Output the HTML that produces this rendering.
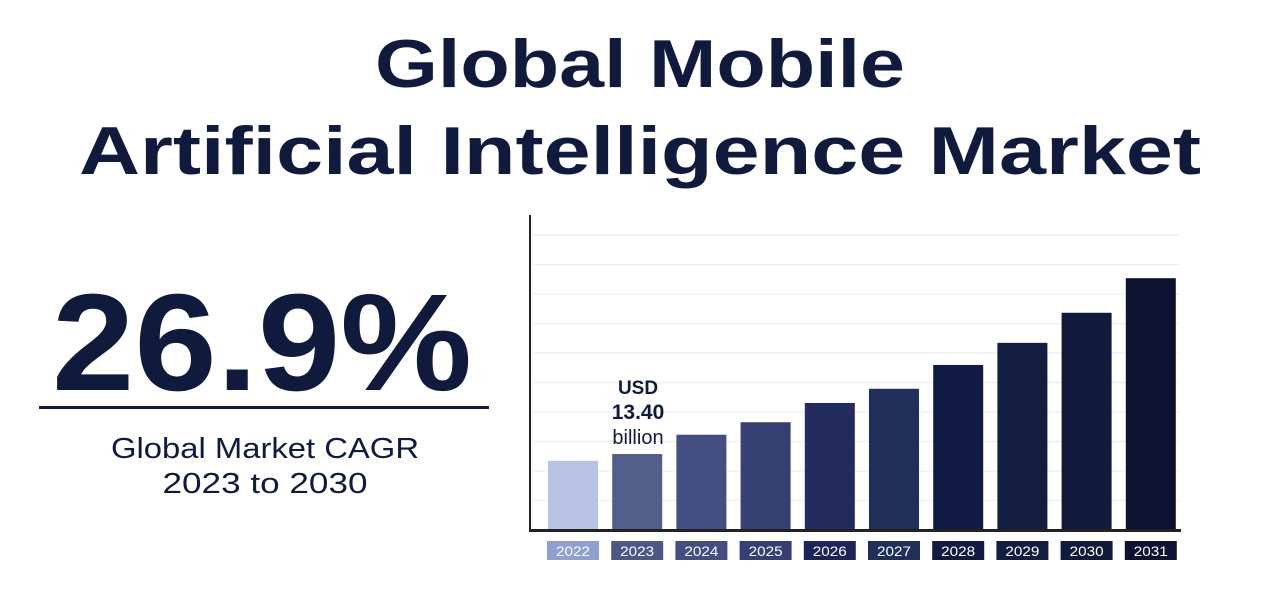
<!DOCTYPE html>
<html><head><meta charset="utf-8"><style>
html,body{margin:0;padding:0;background:#fff;width:1280px;height:600px;overflow:hidden}
svg{display:block;font-family:"Liberation Sans",sans-serif}
</style></head><body>
<svg id="chart" width="1280" height="600" viewBox="0 0 1280 600">
<text x="640" y="87" text-anchor="middle" font-size="68" font-weight="bold" fill="#0f1a3c" textLength="530" lengthAdjust="spacingAndGlyphs">Global Mobile</text>
<text x="640" y="174" text-anchor="middle" font-size="68" font-weight="bold" fill="#0f1a3c" textLength="1122" lengthAdjust="spacingAndGlyphs">Artificial Intelligence Market</text>
<text x="52" y="390" font-size="138" font-weight="bold" fill="#0f1a3c" textLength="420" lengthAdjust="spacingAndGlyphs">26.9%</text>
<rect x="39" y="406" width="450" height="3" fill="#0f1a3c"/>
<text x="265" y="458" text-anchor="middle" font-size="29" fill="#0f1a3c" textLength="308" lengthAdjust="spacingAndGlyphs">Global Market CAGR</text>
<text x="265" y="493" text-anchor="middle" font-size="29" fill="#0f1a3c" textLength="205" lengthAdjust="spacingAndGlyphs">2023 to 2030</text>
<g id="grid"></g>
<g id="bars"></g>
<rect x="529" y="215" width="2" height="317" fill="#222"/>
<rect x="529" y="529" width="652" height="3" fill="#222"/>
<text x="638" y="394" text-anchor="middle" font-size="19" font-weight="bold" fill="#0f1a3c">USD</text>
<text x="638" y="419" text-anchor="middle" font-size="21" font-weight="bold" fill="#0f1a3c">13.40</text>
<text x="638" y="444" text-anchor="middle" font-size="20" fill="#0f1a3c">billion</text>
</svg>
<script>
const years=["2022","2023","2024","2025","2026","2027","2028","2029","2030","2031"];
const values=[12.2,13.4,16.8,19.0,22.4,24.9,29.1,33.0,38.3,44.4];
const barColors=["#b8c3e3","#525f8c","#434e83","#353f72","#232b5e","#1f2f5a","#111a42","#131d40","#111a3a","#0c1230"];
const labelColors=["#8f9fd0","#4b5785","#434e83","#353f72","#1c2458","#1f2f5a","#111a42","#131d40","#111a3a","#0c1230"];
const gridValues=[5.2,10.4,15.6,20.8,26,31.2,36.4,41.6,46.8,52];
const NS="http://www.w3.org/2000/svg";
const baseY=530, pxPer=76/13.4, x0=548, step=64.2, bw=50;
const yS=v=>baseY-v*pxPer;
const xS=i=>x0+i*step;
const grid=document.getElementById('grid'), bars=document.getElementById('bars');
gridValues.forEach(v=>{
 const l=document.createElementNS(NS,'line');
 l.setAttribute('x1',533);l.setAttribute('x2',1180);l.setAttribute('y1',yS(v));l.setAttribute('y2',yS(v));
 l.setAttribute('stroke','#f0f0f0');l.setAttribute('stroke-width','1.5');
 
 
 grid.appendChild(l);
});
years.forEach((yr,i)=>{
 const r=document.createElementNS(NS,'rect');
 r.setAttribute('x',xS(i));r.setAttribute('y',yS(values[i]));r.setAttribute('width',bw);r.setAttribute('height',values[i]*pxPer);
 r.setAttribute('fill',barColors[i]);
 
 
 bars.appendChild(r);
 const b=document.createElementNS(NS,'rect');
 b.setAttribute('x',xS(i)-1);b.setAttribute('y',541);b.setAttribute('width',bw+2);b.setAttribute('height',19);
 b.setAttribute('fill',labelColors[i]);
 
 
 bars.appendChild(b);
 const t=document.createElementNS(NS,'text');
 t.setAttribute('x',xS(i)+bw/2);t.setAttribute('y',556);t.setAttribute('text-anchor','middle');
 t.setAttribute('font-size','14');t.setAttribute('fill','#fff');
 t.setAttribute('textLength','34');t.setAttribute('lengthAdjust','spacingAndGlyphs');
 t.textContent=yr;
 
 
 bars.appendChild(t);
});
</script>
</body></html>
